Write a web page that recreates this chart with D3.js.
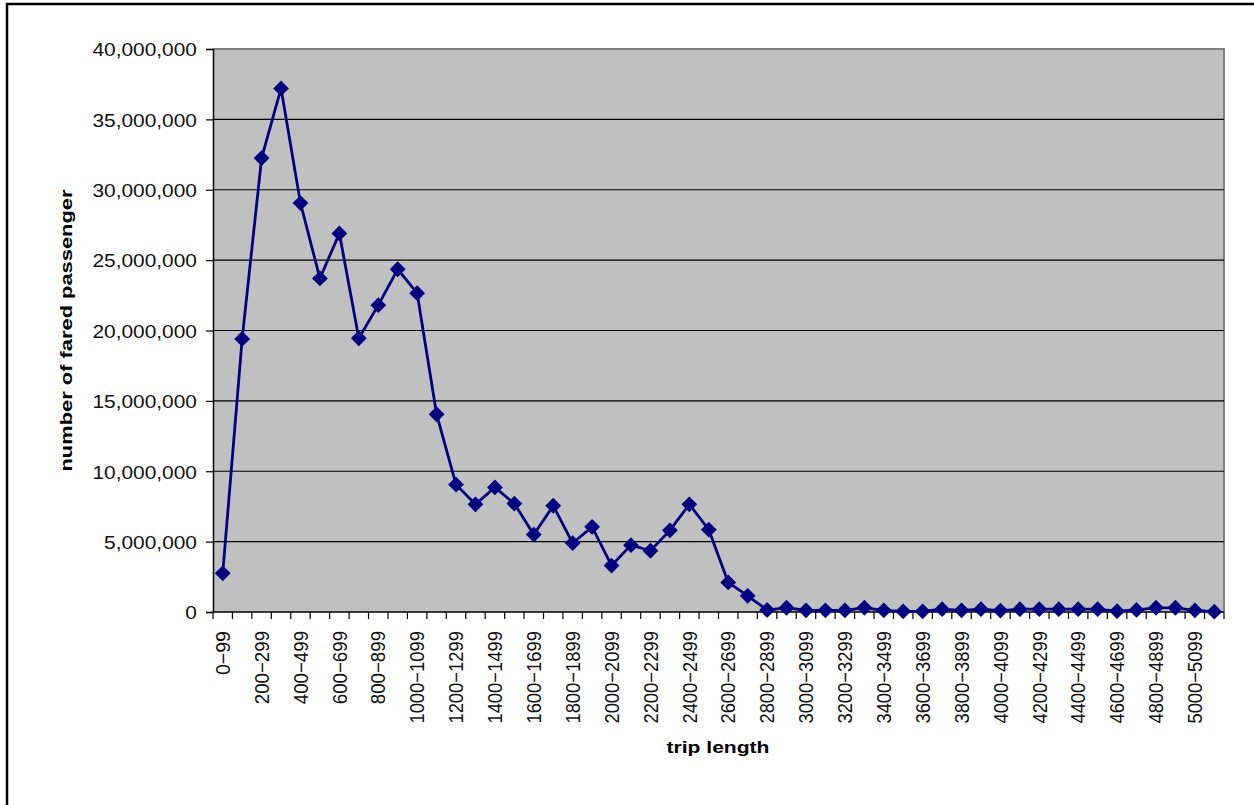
<!DOCTYPE html>
<html>
<head>
<meta charset="utf-8">
<script src="https://cdn.jsdelivr.net/npm/d3@7"></script>
<style>
  body { margin: 0; background: #fff; }
  svg { display: block; }
</style>
</head>
<body>
<svg width="1254" height="805"></svg>
<script>
// trip length bins, 100 each
const binStarts = d3.range(0, 5200, 100);
const categories = binStarts.map(s => `${s}−${s + 99}`);

// fared passengers per bin
const passengers = [
  2750000, 19400000, 32250000, 37200000, 29050000, 23700000, 26900000, 19450000,
  21800000, 24350000, 22650000, 14050000, 9050000, 7650000, 8850000, 7700000,
  5500000, 7550000, 4900000, 6050000, 3300000, 4750000, 4350000, 5800000,
  7650000, 5850000, 2100000, 1150000, 140000, 300000, 120000, 120000,
  120000, 300000, 120000, 50000, 50000, 200000, 120000, 200000,
  100000, 200000, 200000, 200000, 200000, 200000, 60000, 150000,
  300000, 300000, 120000, 20000
];

const yTicks = [0, 5000000, 10000000, 15000000, 20000000, 25000000, 30000000, 35000000, 40000000];

const svg = d3.select("svg");
const plotL = 213, plotR = 1224, plotT = 49, plotB = 612;
const navy = "#000080";

// outer frame
svg.append("rect")
  .attr("x", 7).attr("y", 4)
  .attr("width", 1270).attr("height", 820)
  .attr("fill", "none").attr("stroke", "#000").attr("stroke-width", 2.5);

const x = d3.scaleBand().domain(categories).range([plotL, plotR]);
const y = d3.scaleLinear().domain([0, 40000000]).range([plotB, plotT]);

// plot area
svg.append("rect")
  .attr("x", plotL).attr("y", plotT)
  .attr("width", plotR - plotL).attr("height", plotB - plotT)
  .attr("fill", "#c0c0c0");
svg.append("path")
  .attr("d", `M${plotL},${plotT}H${plotR}V${plotB}`)
  .attr("fill", "none").attr("stroke", "#808080").attr("stroke-width", 2);

// gridlines
svg.append("g")
  .selectAll("line")
  .data(yTicks.slice(1, -1))
  .join("line")
  .attr("x1", plotL).attr("x2", plotR)
  .attr("y1", d => y(d)).attr("y2", d => y(d))
  .attr("stroke", "#000").attr("stroke-width", 1.2);

// y axis
const yAxis = svg.append("g")
  .attr("transform", `translate(${plotL},0)`)
  .call(d3.axisLeft(y).tickValues(yTicks).tickFormat(d3.format(",")).tickSize(7).tickPadding(0));
yAxis.select(".domain").attr("stroke", "#000").attr("stroke-width", 1.5);
yAxis.selectAll(".tick line").attr("stroke", "#000").attr("stroke-width", 1.2);
yAxis.selectAll(".tick text").remove();
yAxis.selectAll(".tick").append("text")
  .attr("transform", "translate(-16,0) scale(1.1,1)")
  .attr("text-anchor", "end")
  .attr("dy", "0.36em")
  .attr("fill", "#111")
  .style("font-family", "'Liberation Sans', Arial, sans-serif")
  .style("font-size", "19px")
  .text(d => d3.format(",")(d));

// x axis
svg.append("line")
  .attr("x1", plotL).attr("x2", plotR)
  .attr("y1", plotB).attr("y2", plotB)
  .attr("stroke", "#000").attr("stroke-width", 1.5);
svg.append("g")
  .selectAll("line")
  .data(categories)
  .join("line")
  .attr("x1", d => x(d)).attr("x2", d => x(d))
  .attr("y1", plotB).attr("y2", plotB + 7)
  .attr("stroke", "#000").attr("stroke-width", 1.2);
svg.append("line")
  .attr("x1", plotR).attr("x2", plotR)
  .attr("y1", plotB).attr("y2", plotB + 7)
  .attr("stroke", "#000").attr("stroke-width", 1.2);

svg.append("g")
  .selectAll("text")
  .data(categories.filter((d, i) => i % 2 === 0))
  .join("text")
  .attr("transform", d => `translate(${x(d) + x.bandwidth() / 2},${plotB + 19}) rotate(-90)`)
  .attr("text-anchor", "end")
  .attr("dy", "0.36em")
  .attr("textLength", d => (d.length - 1) * 9.7 + 15)
  .attr("lengthAdjust", "spacingAndGlyphs")
  .attr("fill", "#111")
  .style("font-family", "'Liberation Sans', Arial, sans-serif")
  .style("font-size", "20px")
  .text(d => d);

// series
const cx = (d, i) => x(categories[i]) + x.bandwidth() / 2;
svg.append("path")
  .datum(passengers)
  .attr("d", d3.line().x(cx).y(d => y(d)))
  .attr("fill", "none")
  .attr("stroke", navy)
  .attr("stroke-width", 2.8);

svg.append("g")
  .selectAll("path")
  .data(passengers)
  .join("path")
  .attr("transform", (d, i) => `translate(${cx(d, i)},${y(d)}) rotate(45)`)
  .attr("d", d3.symbol(d3.symbolSquare, 125))
  .attr("fill", navy);

// axis titles
svg.append("text")
  .attr("transform", `translate(72,${(plotT + plotB) / 2}) rotate(-90)`)
  .attr("text-anchor", "middle")
  .attr("textLength", 282)
  .attr("lengthAdjust", "spacingAndGlyphs")
  .style("font-family", "'Liberation Sans', Arial, sans-serif")
  .style("font-size", "17px")
  .style("font-weight", "bold")
  .text("number of fared passenger");

svg.append("text")
  .attr("x", 718).attr("y", 753)
  .attr("text-anchor", "middle")
  .attr("textLength", 103)
  .attr("lengthAdjust", "spacingAndGlyphs")
  .style("font-family", "'Liberation Sans', Arial, sans-serif")
  .style("font-size", "17px")
  .style("font-weight", "bold")
  .text("trip length");
</script>
</body>
</html>
